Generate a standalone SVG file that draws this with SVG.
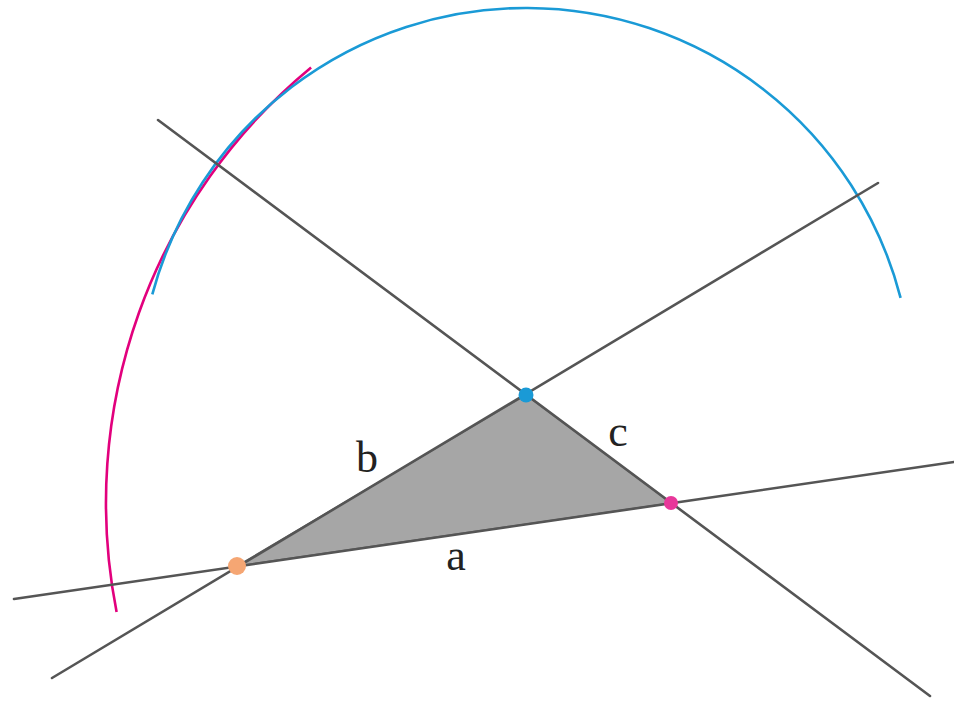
<svg xmlns="http://www.w3.org/2000/svg" width="954" height="702" viewBox="0 0 954 702">
<style>
.ln{stroke:#555;stroke-width:2.6;stroke-linecap:round;fill:none}
.arc{fill:none;stroke-width:2.6}
.lbl{font-family:"Liberation Serif","Times New Roman",serif;font-size:44px;fill:#222;text-anchor:middle}
</style>
<rect width="954" height="702" fill="#fff"/>
<g id="arcs">
<path class="arc" stroke="#e2007d" d="M 311.1 67.4 A 565 565 0 0 0 116.6 612.1"/>
<path class="arc" stroke="#1a9ad6" d="M 152.3 294.3 A 387 387 0 0 1 900.6 297.8"/>
</g>
<g id="triangle">
<polygon points="237,566 526,395 671,503" fill="#a6a6a6" stroke="#666" stroke-width="1.5"/>
</g>
<g id="connectors">
<line class="ln" x1="14" y1="599" x2="954" y2="462"/>
<line class="ln" x1="52" y1="678" x2="878" y2="183"/>
<line class="ln" x1="158" y1="120" x2="930" y2="696"/>
</g>
<g id="pointA"><circle cx="237" cy="566" r="9" fill="#f5a673"/></g>
<g id="pointB"><circle cx="526" cy="395" r="7.5" fill="#1a9ad6"/></g>
<g id="pointC"><circle cx="671" cy="503" r="7" fill="#e8379a"/></g>
<g id="labels">
<text class="lbl" x="367" y="472">b</text>
<text class="lbl" x="618" y="446">c</text>
<text class="lbl" x="456" y="570">a</text>
</g>
</svg>
